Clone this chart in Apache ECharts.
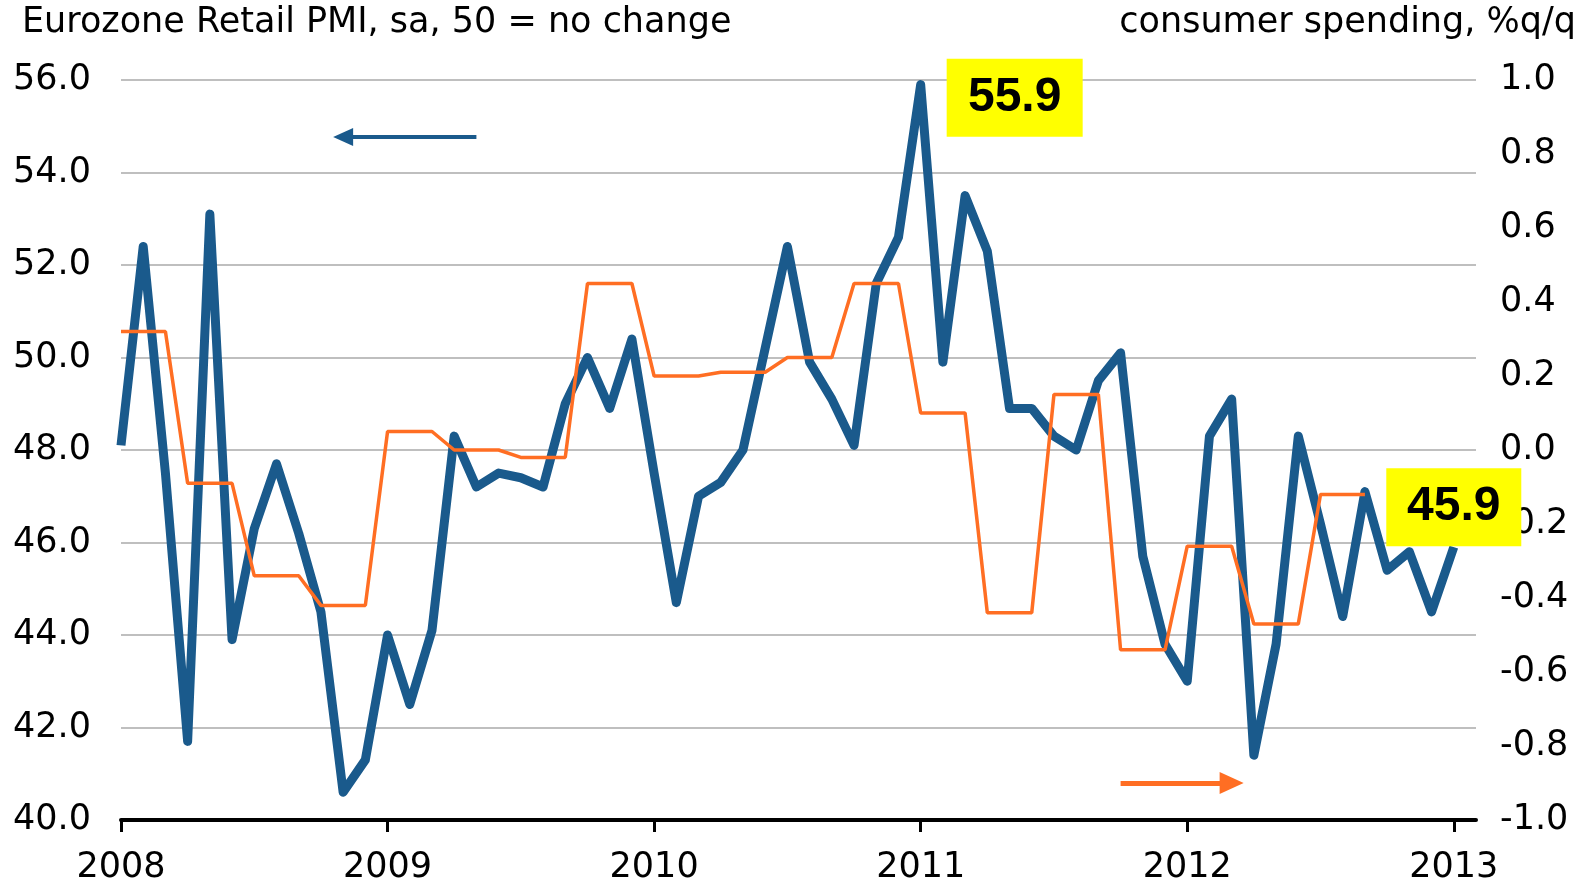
<!DOCTYPE html>
<html>
<head>
<meta charset="utf-8">
<title>Eurozone Retail PMI vs consumer spending</title>
<script src="https://cdn.jsdelivr.net/npm/echarts@6/dist/echarts.min.js"></script>
<style>
  html, body { margin: 0; padding: 0; background: #fff; }
  #chart { width: 1594px; height: 886px; }
</style>
</head>
<body>
<div id="chart"></div>
<script>
// monthly categories, Jan 2008 .. Feb 2013
const years = ['2008', '2009', '2010', '2011', '2012', '2013'];
const months = [];
years.forEach(function (y) {
  for (let m = 1; m <= 12; m++) months.push(y + '-' + (m < 10 ? '0' + m : m));
});
const categories = months.slice(0, 62);

// Eurozone Retail PMI, sa (left axis), Jan 2008 .. Jan 2013
const retailPmi = [
  48.1, 52.4, 47.5, 41.7, 53.1, 43.9, 46.3, 47.7, 46.2, 44.5, 40.6, 41.3, // 2008
  44.0, 42.5, 44.1, 48.3, 47.2, 47.5, 47.4, 47.2, 49.0, 50.0, 48.9, 50.4, // 2009
  47.5, 44.7, 47.0, 47.3, 48.0, 50.2, 52.4, 49.9, 49.1, 48.1, 51.6, 52.6, // 2010
  55.9, 49.9, 53.5, 52.3, 48.9, 48.9, 48.3, 48.0, 49.5, 50.1, 45.7, 43.8, // 2011
  43.0, 48.3, 49.1, 41.4, 43.8, 48.3, 46.4, 44.4, 47.1, 45.4, 45.8, 44.5, // 2012
  45.9 // 2013
];

// consumer spending, %q/q (right axis), Q1 2008 .. Q3 2012
const spendingQ = [
  0.32, -0.09, -0.34, -0.42,
  0.05, 0.00, -0.02, 0.45,
  0.20, 0.21, 0.25, 0.45,
  0.10, -0.44, 0.15, -0.54,
  -0.26, -0.47, -0.12
];

const leftTicks = { min: 40, max: 56, step: 2 };
const rightTicks = { min: -1, max: 1, step: 0.2 };

const leftTitle = 'Eurozone Retail PMI, sa, 50 = no change';
const rightTitle = 'consumer spending, %q/q';

// each quarter held for its three months
const spendingM = [];
spendingQ.forEach(function (v) { spendingM.push(v, v, v); });

const BLUE = '#1a5a8c';
const ORANGE = '#ff6e23';
const FONT = 'DejaVu Sans';

const isJan = function (idx) { return idx % 12 === 0; };
const last = retailPmi.length - 1;

const chart = echarts.init(document.getElementById('chart'));
chart.setOption({
  animation: false,
  backgroundColor: '#fff',
  title: [
    {
      text: leftTitle, left: 22, top: 5, padding: 0,
      textStyle: { fontSize: 35, fontWeight: 'normal', color: '#000', fontFamily: FONT }
    },
    {
      text: rightTitle, right: 18, top: 5, padding: 0,
      textStyle: { fontSize: 35, fontWeight: 'normal', color: '#000', fontFamily: FONT }
    }
  ],
  grid: { left: 121, right: 118, top: 80, bottom: 66 },
  xAxis: {
    type: 'category',
    data: categories,
    boundaryGap: false,
    axisLine: { onZero: false, lineStyle: { color: '#000', width: 4 } },
    axisTick: { show: true, interval: isJan, length: 12, lineStyle: { color: '#000', width: 3 } },
    axisLabel: {
      interval: isJan,
      formatter: function (v) { return v.slice(0, 4); },
      margin: 30, fontSize: 35, color: '#000', fontFamily: FONT
    },
    splitLine: { show: false }
  },
  yAxis: [
    {
      type: 'value',
      position: 'left',
      min: leftTicks.min, max: leftTicks.max, interval: leftTicks.step,
      axisLine: { show: false },
      axisTick: { show: false },
      axisLabel: {
        formatter: function (v) { return v.toFixed(1); },
        margin: 30, fontSize: 35, color: '#000', fontFamily: FONT
      },
      splitLine: { lineStyle: { color: '#bfbfbf', width: 2 } }
    },
    {
      type: 'value',
      position: 'right',
      min: rightTicks.min, max: rightTicks.max, interval: rightTicks.step,
      axisLine: { show: false },
      axisTick: { show: false },
      axisLabel: {
        formatter: function (v) { return v.toFixed(1); },
        margin: 24, fontSize: 35, color: '#000', fontFamily: FONT
      },
      splitLine: { show: false }
    }
  ],
  series: [
    {
      name: 'Retail PMI',
      type: 'line',
      yAxisIndex: 0,
      data: retailPmi,
      symbol: 'none',
      z: 2,
      lineStyle: { color: BLUE, width: 9, join: 'round' },
      markPoint: {
        silent: true,
        symbol: 'rect',
        itemStyle: { color: '#ffff00' },
        label: {
          show: true, position: 'inside', color: '#000',
          fontSize: 48, fontWeight: 'bold', fontFamily: 'Liberation Sans',
          formatter: function (p) { return Number(p.value).toFixed(1); }
        },
        data: [
          { type: 'max', symbolSize: [136, 78], symbolOffset: [94, 13] },
          { coord: [last, retailPmi[last]], value: retailPmi[last], symbolSize: [135, 78], symbolOffset: [0, -40] }
        ]
      },
      markLine: {
        silent: true,
        symbol: ['none', 'triangle'],
        symbolSize: [18, 20],
        lineStyle: { color: BLUE, width: 4, type: 'solid' },
        label: { show: false },
        data: [[{ coord: [16, 54.77] }, { coord: [10, 54.77] }]]
      }
    },
    {
      name: 'Consumer spending',
      type: 'line',
      yAxisIndex: 1,
      data: spendingM,
      symbol: 'none',
      z: 3,
      lineStyle: { color: ORANGE, width: 3.5 },
      markLine: {
        silent: true,
        symbol: ['none', 'triangle'],
        symbolSize: [22, 24],
        lineStyle: { color: ORANGE, width: 5, type: 'solid' },
        label: { show: false },
        data: [[{ coord: [45, -0.9] }, { coord: [50, -0.9] }]]
      }
    }
  ]
});
</script>
</body>
</html>
